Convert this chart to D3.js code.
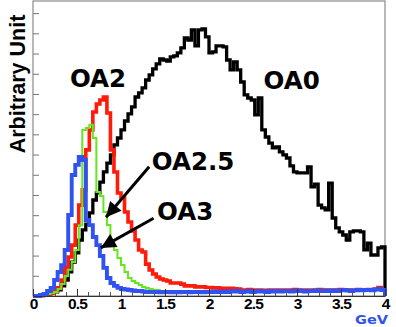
<!DOCTYPE html>
<html><head><meta charset="utf-8">
<script src="https://cdn.jsdelivr.net/npm/d3@7"></script>
<style>
html,body{margin:0;padding:0;background:#fff;}
svg{display:block;}
</style></head>
<body>
<svg id="chart" width="396" height="327"></svg>
<script>
// ---- data (bins of 0.04 GeV from 0 to 4 GeV) ----
const xMin = 0, xMax = 4;
const xTickValues = [0, 0.5, 1, 1.5, 2, 2.5, 3, 3.5, 4];
const xTickLabels = ["0", "0.5", "1", "1.5", "2", "2.5", "3", "3.5", "4"];
const seriesNames = ["OA0", "OA2", "OA2.5", "OA3"];

const oa0 = [0,0.02,0.05,0.07,0.1,0.15,0.2,0.3,0.5,0.79,
1.19,1.68,2.13,2.77,3.27,3.56,4.11,4.75,5.1,5.64,
6.14,6.58,6.98,7.48,7.82,8.22,8.66,9.01,9.36,9.85,
10.05,10.3,10.69,10.94,11.24,11.49,11.73,11.68,11.63,11.83,
11.88,12.03,12.28,12.77,12.67,13.17,12.38,13.17,13.22,12.82,
12.03,12.08,12.38,12.38,12.33,11.68,11.19,11.58,11.19,10.59,
9.95,9.8,9.7,8.96,9.8,8.22,7.87,7.57,7.33,7.38,
7.13,6.98,6.83,6.44,6.14,6.09,6.09,6.09,6.39,5.4,
5.54,4.5,4.36,4.26,5.59,3.86,3.37,3.17,3.02,2.77,
3.17,3.22,3.22,3.17,2.28,2.62,2.03,2.03,2.38,2.43];

const oa2 = [0,0,0.02,0.05,0.1,0.15,0.25,0.4,0.79,1.39,
1.93,2.52,3.51,4.5,5.25,7.23,8.22,9.11,9.5,9.7,
9.85,9.06,7.23,6.14,5.1,4.85,4.16,3.66,3.22,2.77,
2.28,2.18,1.58,1.29,1.09,0.94,0.84,0.79,0.74,0.64,
0.64,0.64,0.59,0.5,0.5,0.5,0.45,0.45,0.45,0.42,
0.42,0.4,0.4,0.38,0.38,0.36,0.38,0.36,0.35,0.3,
0.3,0.32,0.28,0.3,0.3,0.27,0.28,0.3,0.3,0.28,
0.3,0.3,0.28,0.3,0.32,0.3,0.28,0.3,0.3,0.27,
0.3,0.32,0.3,0.28,0.3,0.3,0.3,0.32,0.3,0.28,
0.3,0.3,0.32,0.3,0.3,0.32,0.3,0.35,0.42,0.3];

const oa25 = [0,0.01,0.02,0.05,0.1,0.15,0.2,0.35,0.59,0.99,
1.3,1.68,2.28,3.5,8.22,8.32,8.47,7.82,5.15,4.95,
4.16,3.51,2.77,2.28,1.88,1.53,1.19,0.89,0.74,0.64,
0.54,0.45,0.4,0.35,0.3,0.3,0.25,0.25,0.22,0.2,
0.2,0.2,0.18,0.2,0.18,0.18,0.2,0.18,0.17,0.18,
0.18,0.2,0.18,0.2,0.2,0.18,0.2,0.2,0.18,0.2,
0.2,0.22,0.2,0.2,0.22,0.2,0.2,0.22,0.2,0.22,
0.22,0.2,0.22,0.22,0.2,0.22,0.25,0.22,0.22,0.25,
0.22,0.25,0.22,0.25,0.25,0.22,0.25,0.25,0.28,0.25,
0.25,0.28,0.25,0.28,0.28,0.25,0.28,0.3,0.3,0.28];

const oa3 = [0,0,0.05,0.1,0.25,0.4,0.79,1.19,1.53,2.28,
4.01,5.99,6.49,6.88,6.73,3.76,3.51,2.92,2.52,1.98,
1.39,0.89,0.64,0.5,0.4,0.35,0.32,0.3,0.27,0.25,
0.25,0.22,0.2,0.2,0.2,0.2,0.18,0.2,0.2,0.18,
0.2,0.18,0.2,0.2,0.18,0.2,0.2,0.2,0.18,0.2,
0.2,0.22,0.2,0.2,0.22,0.2,0.22,0.25,0.22,0.2,
0.22,0.25,0.2,0.22,0.25,0.22,0.2,0.25,0.22,0.25,
0.22,0.25,0.25,0.22,0.25,0.28,0.25,0.22,0.25,0.25,
0.28,0.25,0.25,0.28,0.25,0.28,0.25,0.28,0.3,0.28,
0.25,0.28,0.3,0.28,0.3,0.3,0.28,0.32,0.35,0.3];

// annotation positions in data units [GeV, value]
const labelPos = {"OA0": [2.62, 10.25], "OA2": [0.42, 10.35], "OA2.5": [1.35, 6.22], "OA3": [1.41, 3.75]};
const arrows = [
  {from: [1.32, 6.4], to: [0.83, 3.9]},
  {from: [1.37, 3.85], to: [0.77, 2.38]}
];

// ---- drawing ----
const svg = d3.select("#chart");
const L = 33, R = 385, T = 1, B = 296;
const x = d3.scaleLinear().domain([xMin, xMax]).range([L, R]);
const y = d3.scaleLinear().domain([0, 14.6]).range([B, T]);

svg.append("rect").attr("x", L).attr("y", T).attr("width", R - L).attr("height", B - T)
  .attr("fill", "#fff").attr("stroke", "#8a8a8a").attr("stroke-width", 1.2);

// y ticks (no labels)
const yAxis = d3.axisRight(y).tickValues(d3.range(1, 15)).tickSize(6).tickFormat(() => "");
const gy = svg.append("g").attr("transform", `translate(${L},0)`).call(yAxis);
gy.select(".domain").remove();
gy.selectAll("line").attr("stroke", "#777").attr("stroke-width", 1);

// x minor ticks
const gxm = svg.append("g").attr("transform", `translate(0,${B})`)
  .call(d3.axisBottom(x).tickValues(d3.range(0, 4.001, 0.125)).tickSizeInner(-4).tickSizeOuter(0).tickFormat(() => ""));
gxm.select(".domain").remove();
gxm.selectAll("line").attr("stroke", "#555");

// histograms
const nb = oa0.length;
const bw = (xMax - xMin) / nb;
function stepPts(vals) {
  const pts = [[xMin, 0]];
  vals.forEach((v, i) => { pts.push([xMin + i * bw, v]); pts.push([xMin + (i + 1) * bw, v]); });
  pts.push([xMax, 0]);
  return pts;
}
const line = d3.line().x(d => x(d[0])).y(d => y(d[1]));
const series = [
  {name: "OA0", vals: oa0, color: "#000", w: 3.3},
  {name: "OA2", vals: oa2, color: "#ff1a0a", w: 3.6},
  {name: "OA2.5", vals: oa25, color: "#66e61e", w: 2},
  {name: "OA3", vals: oa3, color: "#2f52f0", w: 3.9}
];
svg.append("g").selectAll("path").data(series).join("path")
  .attr("d", d => line(stepPts(d.vals)))
  .attr("fill", "none").attr("stroke", d => d.color).attr("stroke-width", d => d.w)
  .attr("stroke-linejoin", "miter");

// x major ticks + labels
const gx = svg.append("g").attr("transform", `translate(0,${B})`)
  .call(d3.axisBottom(x).tickValues(xTickValues).tickSizeInner(-7).tickSizeOuter(0).tickPadding(2)
    .tickFormat((d, i) => xTickLabels[i]));
gx.select(".domain").attr("stroke", "#333").attr("stroke-width", 1.2);
gx.selectAll("line").attr("stroke", "#333");
gx.selectAll("text").attr("fill", "#000").style("font-family", "'Liberation Sans', Arial, sans-serif")
  .style("font-weight", "bold").style("font-size", "15.5px").style("letter-spacing", "-0.9px");

// axis titles
svg.append("text").attr("x", 388).attr("y", 324.2).attr("text-anchor", "end")
  .attr("textLength", 33).attr("lengthAdjust", "spacingAndGlyphs")
  .style("font-family", "'DejaVu Sans', sans-serif").style("font-weight", "bold").style("font-size", "12.5px")
  .attr("fill", "#2f52f0").text("GeV");
svg.append("text").attr("transform", "translate(25,84) rotate(-90)").attr("text-anchor", "middle")
  .style("font-family", "'Liberation Sans', Arial, sans-serif").style("font-weight", "bold").style("font-size", "21.5px")
  .attr("fill", "#000").text("Arbitrary Unit");

// series labels
svg.append("g").selectAll("text").data(seriesNames).join("text")
  .attr("x", d => x(labelPos[d][0])).attr("y", d => y(labelPos[d][1]))
  .style("font-family", "'DejaVu Sans', sans-serif").style("font-weight", "bold").style("font-size", "24.5px")
  .attr("fill", "#000").text(d => d);

// arrows
const defs = svg.append("defs");
defs.append("marker").attr("id", "ah").attr("viewBox", "0 0 10 10").attr("refX", 10).attr("refY", 5)
  .attr("markerWidth", 5.5).attr("markerHeight", 5).attr("markerUnits", "strokeWidth").attr("orient", "auto")
  .append("path").attr("d", "M0,0 L10,5 L0,10 Z").attr("fill", "#000");
svg.append("g").selectAll("line").data(arrows).join("line")
  .attr("x1", d => x(d.from[0])).attr("y1", d => y(d.from[1]))
  .attr("x2", d => x(d.to[0])).attr("y2", d => y(d.to[1]))
  .attr("stroke", "#000").attr("stroke-width", 3).attr("marker-end", "url(#ah)");
</script>
</body></html>
